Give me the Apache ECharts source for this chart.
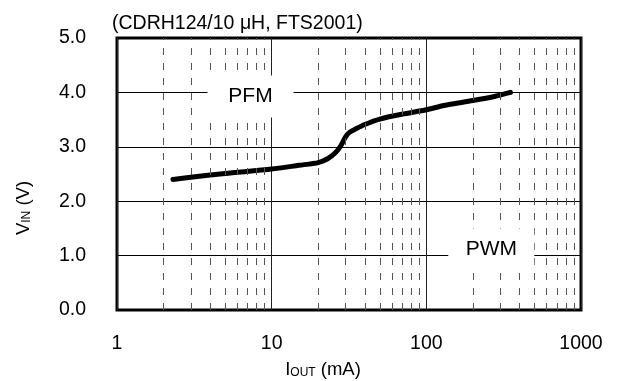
<!DOCTYPE html>
<html>
<head>
<meta charset="utf-8">
<script src="https://cdn.jsdelivr.net/npm/echarts@6/dist/echarts.min.js"></script>
<style>
html,body{margin:0;padding:0;background:#fff;}
#c{width:621px;height:381px;}
</style>
</head>
<body>
<div id="c"></div>
<script>
// ---- data ----
const titleText = '(CDRH124/10 \u03bcH, FTS2001)';
const currentMA = [2.3, 3, 5, 10, 15, 20, 23, 26, 28, 30, 32, 35, 40, 50, 70, 100, 130, 200, 280, 350];
const vinV      = [2.40, 2.44, 2.51, 2.59, 2.66, 2.71, 2.78, 2.90, 3.02, 3.18, 3.27, 3.33, 3.41, 3.51, 3.60, 3.68, 3.76, 3.85, 3.93, 4.00];
const xTickLabels = ['1', '10', '100', '1000'];
const yTickLabels = ['0.0', '1.0', '2.0', '3.0', '4.0', '5.0'];
const minorX = [2,3,4,5,6,7,8,9,20,30,40,50,60,70,80,90,200,300,400,500,600,700,800,900];
const regionNames = ['PFM', 'PWM'];
const regionX = [7.3, 263];
const regionY = [4.0, 1.0];

const FONT = "'Liberation Sans', Arial, sans-serif";
const FS = 19.5;
const chart = echarts.init(document.getElementById('c'), null, {renderer: 'canvas'});

const lineData = currentMA.map((x, i) => [x, vinV[i]]);
const labelOffsets = [[0, 4], [0, -6]];

const option = {
  backgroundColor: '#fff',
  animation: false,
  textStyle: {fontFamily: FONT},
  title: {
    text: titleText,
    left: 107, top: 9,
    textStyle: {fontFamily: FONT, fontSize: FS, fontWeight: 'normal', color: '#000'}
  },
  grid: {
    left: 117, right: 40, top: 38, bottom: 71,
    show: true, borderColor: '#000', borderWidth: 3, backgroundColor: 'transparent'
  },
  xAxis: {
    type: 'log', logBase: 10, min: 1, max: 1000, interval: 1,
    axisLine: {show: false},
    axisTick: {show: false},
    axisLabel: {
      fontFamily: FONT, fontSize: FS, color: '#000', margin: 24,
      formatter: v => { const i = Math.round(Math.log10(v)); return xTickLabels[i]; }
    },
    splitLine: {show: true, lineStyle: {color: '#222', width: 1}}
  },
  yAxis: {
    type: 'value', min: 0, max: 5, interval: 1,
    axisLine: {show: false},
    axisTick: {show: false},
    axisLabel: {
      fontFamily: FONT, fontSize: FS, color: '#000', margin: 31,
      formatter: v => yTickLabels[Math.round(v)]
    },
    splitLine: {show: true, lineStyle: {color: '#000', width: 1}}
  },
  graphic: [
    {
      type: 'text', x: 323, y: 368, z: 10,
      style: {
        text: '{m|I}{s|OUT}{m| (mA)}',
        align: 'center', verticalAlign: 'middle',
        rich: {
          m: {fontFamily: FONT, fontSize: 18.5, color: '#000', verticalAlign: 'bottom', lineHeight: 22},
          s: {fontFamily: FONT, fontSize: 12, color: '#000', verticalAlign: 'bottom', lineHeight: 22}
        }
      }
    },
    {
      type: 'text', x: 22, y: 208, rotation: Math.PI / 2, z: 10,
      style: {
        text: '{m|V}{s|IN}{m| (V)}',
        align: 'center', verticalAlign: 'middle',
        rich: {
          m: {fontFamily: FONT, fontSize: 18.5, color: '#000', verticalAlign: 'bottom', lineHeight: 22},
          s: {fontFamily: FONT, fontSize: 12, color: '#000', verticalAlign: 'bottom', lineHeight: 22}
        }
      }
    }
  ],
  series: [
    {
      type: 'line', data: [], z: 1, silent: true,
      markLine: {
        silent: true, symbol: 'none', animation: false,
        label: {show: false},
        lineStyle: {color: '#555', width: 1, type: [7, 8]},
        data: minorX.map(v => ({xAxis: v}))
      }
    },
    {
      type: 'line', data: lineData, z: 4, smooth: 0.25,
      symbol: 'none',
      lineStyle: {color: '#000', width: 5, cap: 'round', join: 'round'},
      markPoint: {
        silent: true, animation: false,
        symbol: 'rect',
        symbolSize: [86, 42],
        itemStyle: {color: '#fff', borderWidth: 0},
        label: {
          show: true, position: 'inside',
          fontFamily: FONT, fontSize: 21, color: '#000',
          formatter: p => p.name
        },
        data: regionNames.map((n, i) => ({
          name: n, coord: [regionX[i], regionY[i]],
          symbolOffset: labelOffsets[i],
          label: {offset: [0, 0]}
        }))
      }
    }
  ]
};
chart.setOption(option);
</script>
</body>
</html>
